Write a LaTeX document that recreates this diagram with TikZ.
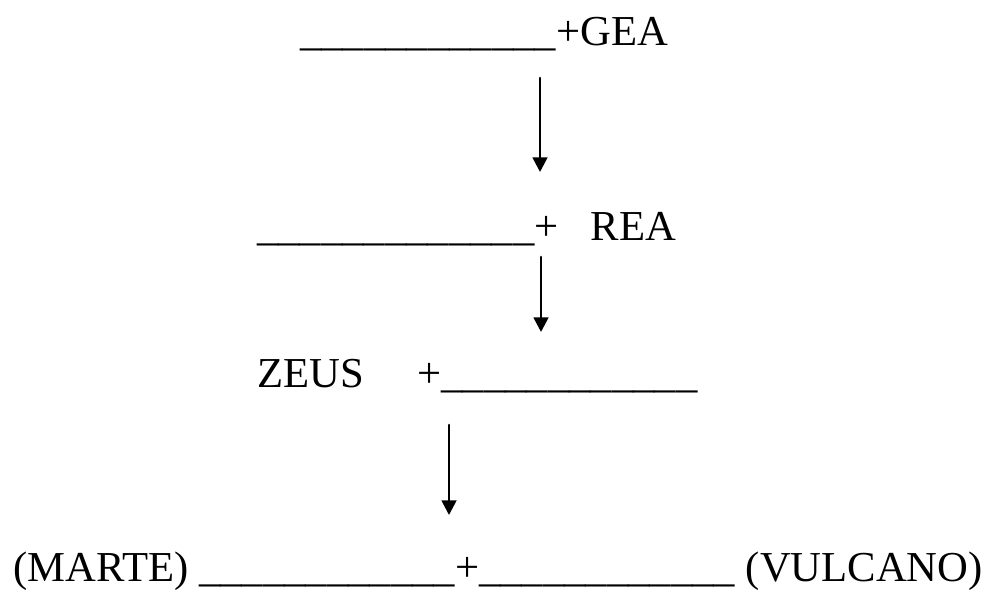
\documentclass[tikz,border=0pt]{standalone}
\usepackage{fontspec}
\setmainfont{Liberation Serif}
\usetikzlibrary{arrows.meta}
\newcommand{\hueco}[1]{\foreach \i in {1,...,#1}{\_}}

\begin{document}
\begin{tikzpicture}[line cap=round,line join=round,>={Triangle[length=11pt,width=11pt]},x=0.75pt,y=-0.75pt]
\useasboundingbox (0,0) rectangle (987,590);
\tikzstyle{fila}=[anchor=base west,inner sep=0pt,font=\fontsize{32}{38}\selectfont]
% filas del arbol
\node[fila] (gea) at (300,45) {\hueco{12}+GEA};
\node[fila] (rea) at (257,240) {\hueco{13}+\hspace{24pt}REA};
\node[fila] (zeus) at (257,387) {ZEUS\hspace{40pt}+\hueco{12}};
\node[fila] (hijos) at (13,581) {(MARTE) \hueco{12}+\hueco{12} (VULCANO)};
% flechas
\coordinate (f1a) at (540,78);
\coordinate (f1b) at (540,172);
\coordinate (f2a) at (541,257);
\coordinate (f2b) at (541,332);
\coordinate (f3a) at (449,425);
\coordinate (f3b) at (449,515);
\draw [line width=2pt,->] (f1a) -- (f1b);
\draw [line width=2pt,->] (f2a) -- (f2b);
\draw [line width=2pt,->] (f3a) -- (f3b);
\end{tikzpicture}
\end{document}
